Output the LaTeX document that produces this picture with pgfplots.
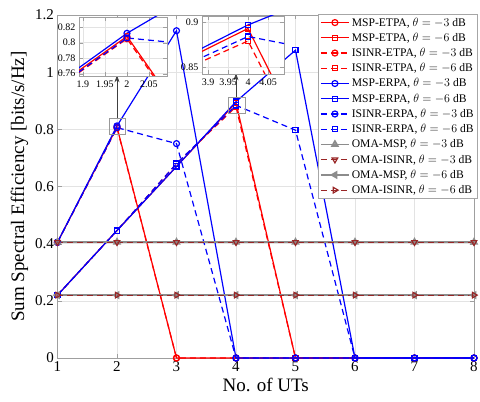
\documentclass[border=0pt]{standalone}
\usepackage{pgfplots}
\usepackage{pgfplotstable}
\pgfplotsset{compat=1.18}
\usepackage{fontspec}
\setmainfont{Liberation Serif}
\usetikzlibrary{arrows.meta}
\definecolor{omared}{rgb}{0.6,0.15,0.15}
\definecolor{omagray}{rgb}{0.55,0.55,0.55}

\pgfplotstableread{
x a b c d e f g h i j k l
1 0.405 0.22 0.405 0.22 0.405 0.22 0.405 0.22 0.405 0.405 0.22 0.22
2 0.808 0.446 0.805 0.446 0.812 0.446 0.806 0.446 0.405 0.405 0.22 0.22
3 0 0.67 0 0.68 1.145 0.67 0.75 0.68 0.405 0.405 0.22 0.22
4 0 0.893 0 0.879 0 0.897 0 0.884 0.405 0.405 0.22 0.22
5 0 0 0 0 0 1.077 0 0.797 0.405 0.405 0.22 0.22
6 0 0 0 0 0 0 0 0 0.405 0.405 0.22 0.22
7 0 0 0 0 0 0 0 0 0.405 0.405 0.22 0.22
8 0 0 0 0 0 0 0 0 0.405 0.405 0.22 0.22
}\data

\tikzset{mydash/.style={dash pattern=on 6pt off 4pt}}

\newcommand\allplots{%
\addplot[red, line width=1.2pt, mark=o, mark size=3pt, mark options={solid}] table[x=x,y=a]{\data};
\addplot[red, line width=1.2pt, mark=square, mark size=2.6pt, mark options={solid}] table[x=x,y=b]{\data};
\addplot[red, line width=1.2pt, mydash, mark=o, mark size=3pt, mark options={solid}] table[x=x,y=c]{\data};
\addplot[red, line width=1.2pt, mydash, mark=square, mark size=2.6pt, mark options={solid}] table[x=x,y=d]{\data};
\addplot[blue, line width=1.2pt, mark=o, mark size=3pt, mark options={solid}] table[x=x,y=e]{\data};
\addplot[blue, line width=1.2pt, mark=square, mark size=2.6pt, mark options={solid}] table[x=x,y=f]{\data};
\addplot[blue, line width=1.2pt, mydash, mark=o, mark size=3pt, mark options={solid}] table[x=x,y=g]{\data};
\addplot[blue, line width=1.2pt, mydash, mark=square, mark size=2.6pt, mark options={solid}] table[x=x,y=h]{\data};
\addplot[omagray, line width=1.8pt, mark=triangle, mark size=3.2pt, mark options={solid}] table[x=x,y=i]{\data};
\addplot[omared, line width=1.2pt, mydash, mark=triangle, mark size=3.2pt, mark options={solid,rotate=180}] table[x=x,y=j]{\data};
\addplot[omagray, line width=1.8pt, mark=triangle, mark size=3.2pt, mark options={solid,rotate=90}] table[x=x,y=k]{\data};
\addplot[omared, line width=1.2pt, mydash, mark=triangle, mark size=3.2pt, mark options={solid,rotate=-90}] table[x=x,y=l]{\data};
}

\pgfplotsset{
  common/.style={
    scale only axis,
    grid=major,
    major grid style={gray!22, line width=0.4pt},
    axis line style={gray!75},
    tick style={gray!75},
    /pgf/number format/assume math mode=true,
    clip mode=global,
  },
}

\begin{document}
\begin{tikzpicture}
\begin{axis}[common,
  at={(0pt,0pt)}, anchor=south west,
  width=416.5pt, height=343pt,
  xmin=1, xmax=8, ymin=0, ymax=1.2,
  xtick={1,2,3,4,5,6,7,8},
  ytick={0,0.2,0.4,0.6,0.8,1,1.2},
  yticklabels={0,0.2,0.4,0.6,0.8,1,1.2},
  ticklabel style={font=\fontsize{15}{15}\selectfont},
  label style={font=\fontsize{19}{20}\selectfont},
  xlabel={No. of UTs},
  ylabel={Sum Spectral Efficiency [bits/s/Hz]},
  legend style={font=\fontsize{11.6}{13}\selectfont, draw=gray!70, fill=white,
    at={(1.008,1.003)}, anchor=north east, inner sep=1.5pt, row sep=1.4pt},
  legend cell align=left,
  legend image code/.code={\draw[mark repeat=2,mark phase=2] plot coordinates {(0pt,0pt) (14pt,0pt) (28pt,0pt)};},
  legend entries={
    {MSP-ETPA, $\theta=-3$ dB},
    {MSP-ETPA, $\theta=-6$ dB},
    {ISINR-ETPA, $\theta=-3$ dB},
    {ISINR-ETPA, $\theta=-6$ dB},
    {MSP-ERPA, $\theta=-3$ dB},
    {MSP-ERPA, $\theta=-6$ dB},
    {ISINR-ERPA, $\theta=-3$ dB},
    {ISINR-ERPA, $\theta=-6$ dB},
    {OMA-MSP, $\theta=-3$ dB},
    {OMA-ISINR, $\theta=-3$ dB},
    {OMA-MSP, $\theta=-6$ dB},
    {OMA-ISINR, $\theta=-6$ dB}},
]
\allplots
\draw[gray!80, line width=0.6pt] (axis cs:1.866,0.782) rectangle (axis cs:2.134,0.839);
\draw[gray!80, line width=0.6pt] (axis cs:3.866,0.856) rectangle (axis cs:4.15,0.912);
\draw[black!75, line width=0.6pt, -{Stealth[length=7pt,width=5pt]}] (axis cs:2,0.839) -- (axis cs:2,0.989);
\draw[black!75, line width=0.6pt, -{Stealth[length=7pt,width=5pt]}] (axis cs:4,0.912) -- (axis cs:4,0.996);
\end{axis}

\begin{axis}[common,
  at={(21.5pt,282pt)}, anchor=south west,
  width=88pt, height=59pt,
  axis background/.style={fill=white},
  xmin=1.891, xmax=2.091, ymin=0.757, ymax=0.833,
  xtick={1.9,1.95,2,2.05}, xticklabels={1.9,1.95,2,2.05},
  ytick={0.76,0.78,0.8,0.82}, yticklabels={0.76,0.78,0.8,0.82},
  ticklabel style={font=\fontsize{10}{10}\selectfont},
  xticklabel style={yshift=-1pt},
]
\allplots
\end{axis}

\begin{axis}[common,
  at={(144.5pt,284pt)}, anchor=south west,
  width=82pt, height=58pt,
  axis background/.style={fill=white},
  xmin=3.885, xmax=4.09, ymin=0.842, ymax=0.907,
  xtick={3.9,3.95,4,4.05}, xticklabels={3.9,3.95,4,4.05},
  ytick={0.85,0.9}, yticklabels={0.85,0.9},
  ticklabel style={font=\fontsize{10}{10}\selectfont},
  xticklabel style={yshift=-1pt},
]
\allplots
\end{axis}
\pgfresetboundingbox
\path[use as bounding box] (-57.5pt,-44pt) rectangle (422.5pt,358pt);
\end{tikzpicture}
\end{document}
